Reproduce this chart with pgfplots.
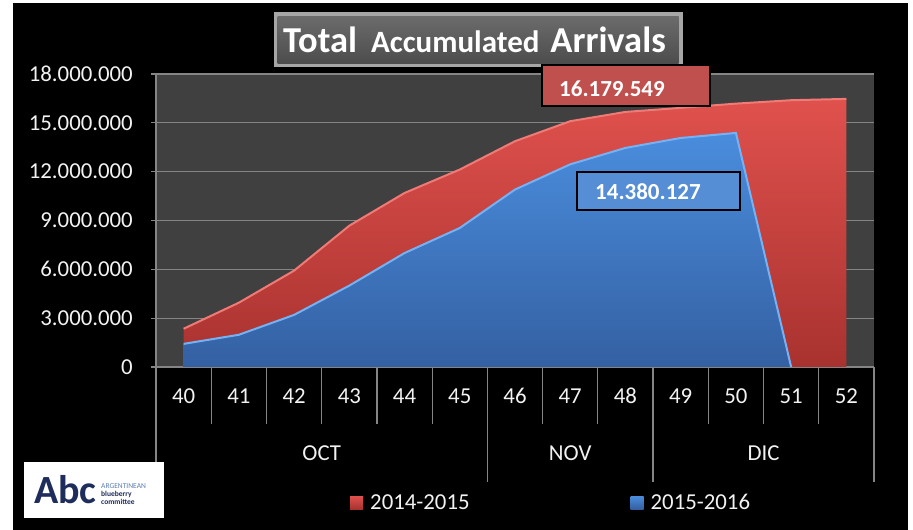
\documentclass[border=0pt]{standalone}
\usepackage{pgfplots}
\pgfplotsset{compat=1.18}
\usepackage{pgfplotstable}
\usepackage{fontspec}
\setmainfont{Carlito}
\definecolor{plotbg}{HTML}{404040}
\definecolor{gridc}{HTML}{858585}
\definecolor{tickc}{HTML}{F2F2F2}
\definecolor{redtop}{HTML}{E0514D}
\definecolor{redbot}{HTML}{A8322F}
\definecolor{redhi}{HTML}{F07A76}
\definecolor{bluetop}{HTML}{4A8DDD}
\definecolor{bluebot}{HTML}{3460A2}
\definecolor{bluehi}{HTML}{72B2F5}
\definecolor{redbox}{HTML}{C0504D}
\definecolor{bluebox}{HTML}{558ED5}
\definecolor{navy}{HTML}{1F2D5C}
\definecolor{lnavy}{HTML}{5B7DB1}
\newcommand\fs{\fontsize{22.8}{26}\selectfont}

\pgfplotstableread{
x red
0 2350000
1 3950000
2 5920000
3 8680000
4 10690000
5 12130000
6 13870000
7 15100000
8 15670000
9 15920000
10 16179549
11 16390000
12 16470000
}\redtab
\pgfplotstableread{
x blue
0 1420000
1 1980000
2 3200000
3 5000000
4 7000000
5 8540000
6 10900000
7 12450000
8 13460000
9 14070000
10 14380127
11 0
}\bluetab

\begin{document}
\begin{tikzpicture}[x=1pt,y=1pt]
\fill[white] (0,0) rectangle (913,530);
\fill[black] (13,0) rectangle (908,527);

\begin{axis}[
  at={(156pt,163pt)}, anchor=south west,
  scale only axis, width=718pt, height=293pt,
  xmin=-0.5, xmax=12.5, ymin=0, ymax=18000000,
  clip=false,
  axis background/.style={fill=plotbg},
  axis x line*=bottom, axis y line*=left,
  axis line style={draw=gridc, line width=1.2pt, -},
  ytick={0,3000000,6000000,9000000,12000000,15000000,18000000},
  ymajorgrids, major grid style={draw=gridc, line width=1.2pt},
  tick align=outside, major tick length=5pt,
  ytick style={draw=gridc, line width=1.2pt},
  xtick={0,1,2,3,4,5,6,7,8,9,10,11,12},
  xticklabels={40,41,42,43,44,45,46,47,48,49,50,51,52},
  xtick style={draw=none},
  scaled y ticks=false,
  yticklabel style={text=tickc, font=\fs, anchor=east, inner sep=0pt, xshift=-18pt,
    /pgf/number format/fixed, /pgf/number format/1000 sep={.}, /pgf/number format/assume math mode=true},
  xticklabel style={text=tickc, font=\fs, anchor=center, inner sep=0pt, yshift=-24pt},
  legend columns=2,
  legend style={at={(0.2702,-0.4625)}, anchor=west, draw=none, fill=none, font=\fs, text=tickc,
    inner sep=0pt, nodes={inner sep=0pt},
    /tikz/every odd column/.append style={column sep=7pt},
    /tikz/every even column/.append style={column sep=161pt}},
  legend image code/.code={\path[#1, draw=none] (0pt,-6.5pt) rectangle (13pt,6.5pt);},
]
\addplot[draw=none, top color=redtop, bottom color=redbot] table[x=x,y=red]{\redtab} \closedcycle;
\addlegendentry{2014-2015}
\addplot[draw=none, top color=bluetop, bottom color=bluebot] table[x=x,y=blue]{\bluetab} \closedcycle;
\addlegendentry{2015-2016}
\addplot[redhi, line width=2pt, forget plot] table[x=x,y=red]{\redtab};
\addplot[bluehi, line width=2pt, forget plot] table[x=x,y=blue]{\bluetab};

\pgfplotsinvokeforeach{0.5,1.5,2.5,3.5,4.5,6.5,7.5,9.5,10.5,11.5}{
  \draw[gridc, line width=1.2pt] (axis cs:#1,0) -- ++(0pt,-57pt);
}
\pgfplotsinvokeforeach{-0.5,5.5,8.5,12.5}{
  \draw[gridc, line width=1.2pt] (axis cs:#1,0) -- ++(0pt,-115pt);
}
\node[font=\fs, text=tickc, yshift=-86pt] at (axis cs:2.5,0) {OCT};
\node[font=\fs, text=tickc, yshift=-86pt] at (axis cs:7,0) {NOV};
\node[font=\fs, text=tickc, yshift=-86pt] at (axis cs:10.5,0) {DIC};
\end{axis}

% title
\fill[black] (272,461) rectangle (684,519);
\fill[gray!70] (273.5,462.5) rectangle (682.5,517.5);
\shade[top color=black!58, bottom color=black!70] (277.5,466.5) rectangle (678.5,513.5);
\node[anchor=base west, text=white, font=\bfseries, inner sep=0pt] at (283,477.3)
  {\fontsize{36.5}{40}\selectfont Total\hspace{14pt}\fontsize{31}{33}\selectfont Accumulated\hspace{11pt}\fontsize{36.5}{40}\selectfont Arrivals};

% value boxes
\filldraw[fill=redbox, draw=black, line width=2pt] (542,424) rectangle (710,465);
\node[anchor=west, inner sep=0pt, text=white, font=\bfseries\fontsize{23}{27}\selectfont] at (559,441.7) {16.179.549};
\filldraw[fill=bluebox, draw=black, line width=2pt] (577,320) rectangle (740,358);
\node[anchor=west, inner sep=0pt, text=white, font=\bfseries\fontsize{23}{27}\selectfont] at (595,338) {14.380.127};

% logo
\fill[white] (24,12) rectangle (164,68);
\node[anchor=west, inner sep=0pt, text=navy, font=\bfseries\fontsize{40}{42}\selectfont] at (34,40) {Abc};
\node[anchor=west, inner sep=0pt, text=lnavy, font=\fontsize{7.5}{8}\selectfont] at (101,44) {ARGENTINEAN};
\node[anchor=west, inner sep=0pt, text=navy, font=\bfseries\fontsize{7.5}{8}\selectfont] at (101,35.5) {blueberry};
\node[anchor=west, inner sep=0pt, text=navy, font=\bfseries\fontsize{7.5}{8}\selectfont] at (101,28) {committee};
\end{tikzpicture}
\end{document}
